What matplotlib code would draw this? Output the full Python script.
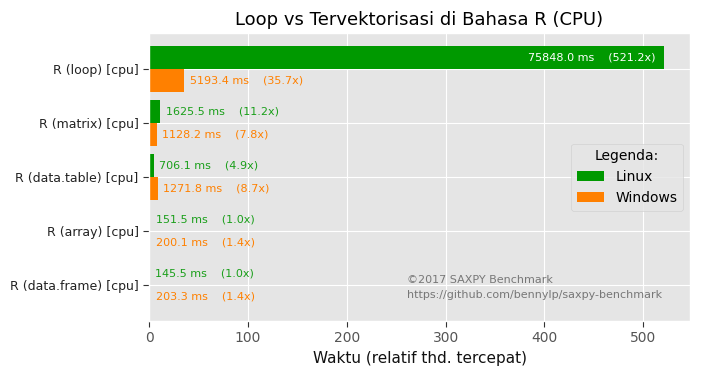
import matplotlib
matplotlib.use("Agg")
import matplotlib.pyplot as plt
import numpy as np

plt.style.use("ggplot")

# Data (ms and times slower than the fastest run)
categories = ["R (data.frame) [cpu]", "R (array) [cpu]", "R (data.table) [cpu]",
              "R (matrix) [cpu]", "R (loop) [cpu]"]
linux_ms = [145.5, 151.5, 706.1, 1625.5, 75848.0]
windows_ms = [203.3, 200.1, 1271.8, 1128.2, 5193.4]
linux_rel = [1.0, 1.04, 4.86, 11.17, 521.2]
windows_rel = [1.4, 1.37, 8.74, 7.75, 35.69]

green = "#009900"
orange = "#ff8000"
green_txt = "#1a9f1a"

fig = plt.figure(figsize=(7.04, 3.75), dpi=100)
ax = fig.add_axes([0.2117, 0.144, 0.7685, 0.768])

y = np.arange(len(categories))
h = 0.42
ax.barh(y + h / 2, linux_rel, height=h, color=green, label="Linux")
ax.barh(y - h / 2, windows_rel, height=h, color=orange, label="Windows")

xmax = max(linux_rel + windows_rel) * 1.05
ax.set_xlim(0, xmax)
ax.set_ylim(-0.67, len(categories) - 0.33)

for i in range(len(categories)):
    for ms, rel, off, col in [(linux_ms[i], linux_rel[i], h / 2, green_txt),
                              (windows_ms[i], windows_rel[i], -h / 2, orange)]:
        txt = "%.1f ms    (%.1fx)" % (ms, rel)
        if rel > xmax * 0.5:
            ax.text(rel - 9, i + off, txt, color="white", fontsize=8,
                    ha="right", va="center")
        else:
            ax.text(rel + 5.5, i + off, txt, color=col, fontsize=8,
                    ha="left", va="center")

ax.set_yticks(y)
ax.set_yticklabels(categories, fontsize=9, color="#222222")
ax.tick_params(axis="x", labelsize=10)
ax.tick_params(length=4, width=0.8, color="#333333", direction="out")
ax.set_xlabel("Waktu (relatif thd. tercepat)", fontsize=11, color="#111111")
ax.set_title("Loop vs Tervektorisasi di Bahasa R (CPU)", fontsize=13, color="black")

leg = ax.legend(title="Legenda:", loc="center right", fontsize=10,
                title_fontsize=10, facecolor="#e5e5e5")

ax.text(0.477, 0.115, "©2017 SAXPY Benchmark\nhttps://github.com/bennylp/saxpy-benchmark",
        transform=ax.transAxes, fontsize=8, color="#777777", va="center",
        linespacing=1.6)

plt.savefig("out.png", dpi=100)
